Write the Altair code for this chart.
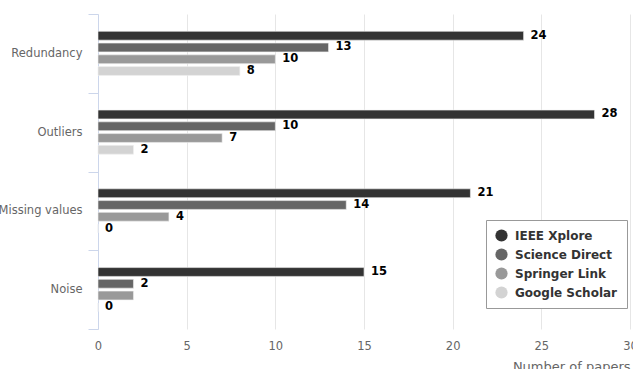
import altair as alt
import pandas as pd

categories = ["Redundancy", "Outliers", "Missing values", "Noise"]
series = ["IEEE Xplore", "Science Direct", "Springer Link", "Google Scholar"]
ieee = [24, 28, 21, 15]
science_direct = [13, 10, 14, 2]
springer = [10, 7, 4, 2]
google = [8, 2, 0, 0]
# label text shown next to each bar ("" where the source shows none)
ieee_lbl = ["24", "28", "21", "15"]
sd_lbl = ["13", "10", "14", "2"]
springer_lbl = ["10", "7", "4", ""]
google_lbl = ["8", "2", "0", "0"]
colors = ["#333333", "#666666", "#999999", "#d3d3d3"]
x_ticks = [0, 5, 10, 15, 20, 25, 30]

rows = []
for vals, lbls, s in [(ieee, ieee_lbl, series[0]), (science_direct, sd_lbl, series[1]),
                      (springer, springer_lbl, series[2]), (google, google_lbl, series[3])]:
    for c, v, l in zip(categories, vals, lbls):
        rows.append({"category": c, "series": s, "value": v, "label": l})
df = pd.DataFrame(rows)

FONT = "DejaVu Sans"

y_axis = alt.Axis(title=None, tickBand="extent", domainColor="#ccd6eb",
                  tickColor="#ccd6eb", tickSize=10, labelColor="#666666",
                  labelFontSize=11.5, labelFont=FONT, labelPadding=6, grid=False)
x_axis = alt.Axis(values=x_ticks, title="Number of papers", titleAnchor="end",
                  titleFontWeight="normal", titleFontSize=13, titleColor="#666666",
                  titleFont=FONT, titlePadding=9,
                  labelColor="#666666", labelFontSize=11.5, labelFont=FONT,
                  labelPadding=11, labelFlush=False,
                  domain=False, ticks=False, gridColor="#e6e6e6")
x_scale = alt.Scale(domain=[0, 30], nice=False)
y_scale = alt.Scale(paddingInner=0, paddingOuter=0)

# spacer slots around the four series keep each group centred in its band
yoff_domain = ["_pad_top"] + series + ["_pad_bottom"]
yoff = alt.YOffset("series:N",
                   scale=alt.Scale(domain=yoff_domain, paddingInner=0.25, paddingOuter=0.475))

base = alt.Chart(df)

bars = base.mark_bar(stroke="#f0f0f0", strokeWidth=0.6).encode(
    x=alt.X("value:Q", scale=x_scale, axis=x_axis),
    y=alt.Y("category:N", sort=categories, scale=y_scale, axis=y_axis),
    yOffset=yoff,
    color=alt.Color("series:N", sort=series,
                    scale=alt.Scale(domain=series, range=colors),
                    legend=alt.Legend(title=None, orient="none", legendX=388, legendY=206,
                                      symbolType="circle", symbolSize=150,
                                      symbolStrokeWidth=0, symbolOpacity=1,
                                      labelFontSize=12, labelFontWeight="bold",
                                      labelColor="#333333", labelFont=FONT,
                                      rowPadding=6, padding=9,
                                      strokeColor="#999999", fillColor="white",
                                      cornerRadius=0, labelOffset=7)),
)

labels = base.mark_text(align="left", baseline="middle", dx=7, fontWeight="bold",
                        fontSize=11.5, font=FONT, color="#000000").encode(
    x=alt.X("value:Q", scale=x_scale, axis=x_axis),
    y=alt.Y("category:N", sort=categories, scale=y_scale, axis=y_axis),
    yOffset=yoff,
    text="label:N",
)

chart = (bars + labels).properties(
    width=532, height=315,
    background="white",
    autosize=alt.AutoSizeParams(type="none"),
    padding={"left": 98, "top": 14, "right": 3, "bottom": 40},
).configure_view(stroke=None)

chart.save("out.html", embed_options={"renderer": "svg", "actions": False})
